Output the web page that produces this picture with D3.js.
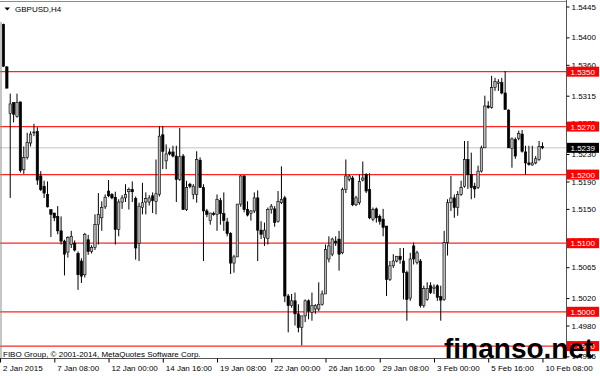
<!DOCTYPE html>
<html>
<head>
<meta charset="utf-8">
<script src="https://cdn.jsdelivr.net/npm/d3@7"></script>
<style>
body { margin: 0; background: #fff; }
svg { display: block; font-family: "Liberation Sans", Arial, sans-serif; }
</style>
</head>
<body>
<div id="chart"></div>
<script>
var width = 600,
    height = 376;

var symbol = "GBPUSD,H4";
var copyright = "FIBO Group, \u00a9 2001-2014, MetaQuotes Software Corp.";
var watermark = "finanso.net";

// H4 bars, oldest first
var open = [1.5419,1.5357,1.5289,1.5305,1.5285,1.5306,1.5207,1.5225,1.5246,1.5261,
    1.5263,1.5198,1.5183,1.5171,1.5149,1.5144,1.5139,1.5118,1.5103,1.5087,
    1.5098,1.5100,1.5085,1.5074,1.5054,1.5105,1.5088,1.5094,1.5127,1.5137,
    1.5153,1.5176,1.5171,1.5167,1.5120,1.5160,1.5166,1.5175,1.5178,1.5165,
    1.5100,1.5152,1.5160,1.5160,1.5169,1.5161,1.5171,1.5258,1.5220,1.5233,
    1.5233,1.5227,1.5193,1.5227,1.5149,1.5186,1.5171,1.5171,1.5221,1.5181,
    1.5147,1.5133,1.5143,1.5142,1.5162,1.5143,1.5131,1.5114,1.5071,1.5080,
    1.5157,1.5198,1.5149,1.5143,1.5147,1.5166,1.5119,1.5108,1.5107,1.5149,
    1.5150,1.5132,1.5159,1.5166,1.5023,1.5009,1.5016,1.4997,1.4977,1.4994,
    1.5016,1.4999,1.5004,1.5004,1.5011,1.5026,1.5077,1.5084,1.5103,1.5106,
    1.5086,1.5178,1.5193,1.5195,1.5156,1.5159,1.5192,1.5200,1.5178,1.5135,
    1.5150,1.5139,1.5135,1.5125,1.5047,1.5067,1.5074,1.5081,1.5074,1.5057,
    1.5020,1.5096,1.5072,1.5074,1.5009,1.5018,1.5038,1.5034,1.5038,1.5022,
    1.5018,1.5101,1.5159,1.5166,1.5152,1.5171,1.5183,1.5222,1.5200,1.5183,
    1.5181,1.5205,1.5239,1.5300,1.5298,1.5327,1.5333,1.5334,1.5319,1.5294,
    1.5238,1.5251,1.5253,1.5259,1.5233,1.5217,1.5214,1.5217,1.5222,1.5241];
var high = [1.5420,1.5358,1.5318,1.5305,1.5318,1.5306,1.5241,1.5261,1.5263,1.5274,
    1.5269,1.5205,1.5191,1.5190,1.5149,1.5144,1.5154,1.5139,1.5105,1.5110,
    1.5118,1.5104,1.5088,1.5078,1.5115,1.5112,1.5097,1.5142,1.5173,1.5161,
    1.5171,1.5192,1.5173,1.5175,1.5164,1.5170,1.5186,1.5181,1.5190,1.5168,
    1.5159,1.5188,1.5174,1.5170,1.5174,1.5222,1.5271,1.5271,1.5244,1.5238,
    1.5242,1.5242,1.5268,1.5230,1.5191,1.5188,1.5186,1.5234,1.5225,1.5186,
    1.5150,1.5144,1.5146,1.5171,1.5166,1.5174,1.5137,1.5116,1.5083,1.5157,
    1.5199,1.5199,1.5161,1.5148,1.5174,1.5177,1.5132,1.5130,1.5152,1.5157,
    1.5154,1.5176,1.5212,1.5169,1.5026,1.5026,1.5028,1.5011,1.4994,1.5018,
    1.5018,1.5028,1.5011,1.5043,1.5031,1.5098,1.5110,1.5108,1.5110,1.5118,
    1.5181,1.5222,1.5200,1.5198,1.5169,1.5200,1.5219,1.5202,1.5202,1.5152,
    1.5152,1.5142,1.5150,1.5125,1.5074,1.5084,1.5081,1.5093,1.5093,1.5060,
    1.5086,1.5101,1.5089,1.5077,1.5038,1.5043,1.5043,1.5040,1.5040,1.5038,
    1.5118,1.5164,1.5198,1.5171,1.5176,1.5191,1.5249,1.5249,1.5232,1.5188,
    1.5213,1.5242,1.5315,1.5307,1.5344,1.5341,1.5339,1.5341,1.5351,1.5295,
    1.5254,1.5254,1.5264,1.5265,1.5242,1.5242,1.5242,1.5227,1.5249,1.5247];
var low = [1.5357,1.5326,1.5166,1.5276,1.5283,1.5203,1.5201,1.5222,1.5241,1.5256,
    1.5185,1.5176,1.5166,1.5152,1.5109,1.5132,1.5113,1.5098,1.5053,1.5079,
    1.5093,1.5088,1.5032,1.5042,1.5050,1.5083,1.5085,1.5090,1.5098,1.5118,
    1.5150,1.5167,1.5164,1.5098,1.5110,1.5150,1.5160,1.5149,1.5160,1.5076,
    1.5074,1.5142,1.5142,1.5155,1.5144,1.5142,1.5168,1.5208,1.5208,1.5228,
    1.5225,1.5160,1.5191,1.5149,1.5147,1.5180,1.5164,1.5159,1.5181,1.5074,
    1.5138,1.5127,1.5140,1.5118,1.5127,1.5118,1.5110,1.5055,1.5057,1.5080,
    1.5153,1.5145,1.5139,1.5133,1.5144,1.5074,1.5106,1.5096,1.5098,1.5143,
    1.5124,1.5130,1.5157,1.5014,1.4970,1.5006,1.4980,1.4970,1.4951,1.4985,
    1.4989,1.4987,1.4997,1.5001,1.5009,1.5026,1.5072,1.5081,1.5096,1.5060,
    1.5084,1.5173,1.5190,1.5154,1.5154,1.5156,1.5190,1.5173,1.5135,1.5132,
    1.5130,1.5127,1.5110,1.5023,1.5045,1.5064,1.5072,1.5070,1.5018,1.4987,
    1.5016,1.5069,1.5069,1.5006,1.5006,1.5016,1.5026,1.5026,1.5016,1.4987,
    1.5016,1.5082,1.5147,1.5137,1.5140,1.5169,1.5181,1.5179,1.5164,1.5166,
    1.5179,1.5203,1.5239,1.5296,1.5296,1.5322,1.5322,1.5317,1.5295,1.5239,
    1.5210,1.5223,1.5250,1.5232,1.5200,1.5213,1.5213,1.5215,1.5220,1.5237];
var close = [1.5358,1.5326,1.5303,1.5288,1.5305,1.5206,1.5225,1.5247,1.5259,1.5262,
    1.5192,1.5178,1.5173,1.5153,1.5142,1.5137,1.5118,1.5103,1.5084,1.5108,
    1.5110,1.5090,1.5054,1.5052,1.5113,1.5088,1.5094,1.5127,1.5142,1.5152,
    1.5167,1.5169,1.5166,1.5120,1.5160,1.5166,1.5171,1.5178,1.5175,1.5093,
    1.5154,1.5159,1.5165,1.5166,1.5162,1.5172,1.5256,1.5234,1.5230,1.5230,
    1.5227,1.5193,1.5226,1.5149,1.5181,1.5183,1.5183,1.5222,1.5181,1.5147,
    1.5142,1.5144,1.5142,1.5164,1.5143,1.5133,1.5114,1.5071,1.5080,1.5157,
    1.5198,1.5149,1.5141,1.5147,1.5166,1.5119,1.5113,1.5119,1.5149,1.5154,
    1.5130,1.5161,1.5164,1.5023,1.5009,1.5016,1.4997,1.4977,1.4994,1.5016,
    1.5001,1.5009,1.5009,1.5011,1.5026,1.5091,1.5096,1.5106,1.5101,1.5084,
    1.5178,1.5198,1.5198,1.5156,1.5166,1.5190,1.5195,1.5176,1.5137,1.5149,
    1.5137,1.5132,1.5123,1.5047,1.5067,1.5074,1.5081,1.5076,1.5057,1.5018,
    1.5077,1.5077,1.5086,1.5009,1.5034,1.5034,1.5028,1.5036,1.5021,1.5017,
    1.5101,1.5159,1.5166,1.5152,1.5171,1.5181,1.5222,1.5200,1.5181,1.5179,
    1.5205,1.5239,1.5300,1.5298,1.5327,1.5336,1.5335,1.5319,1.5295,1.5239,
    1.5252,1.5227,1.5260,1.5234,1.5217,1.5215,1.5217,1.5223,1.5241,1.5239];

var levels = [1.5350, 1.5270, 1.5200, 1.5100, 1.5000, 1.4950];
var lastPrice = 1.5239;
var priceTicks = [1.5445, 1.5400, 1.5360, 1.5315, 1.5275, 1.5230, 1.5190,
    1.5150, 1.5105, 1.5065, 1.5020, 1.4980, 1.4935];
// bar index of each time label (bar -1 is the hidden 2 Jan 16:00 bar)
var timeTickBars = [-1, 15, 31, 47, 63, 79, 95, 111, 127, 143, 159];
var timeLabels = ["2 Jan 2015", "7 Jan 08:00", "12 Jan 00:00", "14 Jan 16:00",
    "19 Jan 08:00", "22 Jan 00:00", "26 Jan 16:00", "29 Jan 08:00",
    "3 Feb 00:00", "5 Feb 16:00", "10 Feb 08:00"];

var plotRight = 566.5,
    plotBottom = 358.5;

var svg = d3.select("#chart").append("svg")
    .attr("width", width)
    .attr("height", height);

var x = d3.scaleLinear()
    .domain([-1, open.length - 1])
    .range([0.06, 0.06 + 3.39 * open.length]);

var y = d3.scaleLinear()
    .domain([1.49319, 1.54545])
    .range([plotBottom, 0]);

// current price line
svg.append("line")
    .attr("x1", 0).attr("x2", plotRight)
    .attr("y1", y(lastPrice)).attr("y2", y(lastPrice))
    .attr("stroke", "#c4c4c4").attr("stroke-width", 1);

// horizontal levels
svg.selectAll(".level")
    .data(levels)
    .enter().append("line")
    .attr("class", "level")
    .attr("x1", 0).attr("x2", plotRight)
    .attr("y1", function(d){ return y(d); })
    .attr("y2", function(d){ return y(d); })
    .attr("stroke", "#ff2424").attr("stroke-width", 1.2);

// candles
var bars = d3.range(open.length);
svg.selectAll(".wick")
    .data(bars)
    .enter().append("line")
    .attr("class", "wick")
    .attr("x1", function(i){ return x(i); })
    .attr("x2", function(i){ return x(i); })
    .attr("y1", function(i){ return y(high[i]); })
    .attr("y2", function(i){ return y(low[i]); })
    .attr("stroke", "#000").attr("stroke-width", 1);

svg.selectAll(".body")
    .data(bars)
    .enter().append("rect")
    .attr("class", "body")
    .attr("x", function(i){ return x(i) - 1.2; })
    .attr("width", 2.4)
    .attr("y", function(i){ return y(Math.max(open[i], close[i])); })
    .attr("height", function(i){ return Math.max(0.8, Math.abs(y(open[i]) - y(close[i]))); })
    .attr("fill", function(i){ return close[i] >= open[i] ? "#b8b8b8" : "#000"; })
    .attr("stroke", "#000")
    .attr("stroke-width", 0.6);

// frame
svg.append("line")
    .attr("x1", 0).attr("x2", plotRight).attr("y1", 1.5).attr("y2", 1.5)
    .attr("stroke", "#8c8c8c");
svg.append("line")
    .attr("x1", 1).attr("x2", 1).attr("y1", 22).attr("y2", plotBottom)
    .attr("stroke", "#8c8c8c");
svg.append("line")
    .attr("x1", plotRight).attr("x2", plotRight).attr("y1", 0).attr("y2", plotBottom)
    .attr("stroke", "#555");
svg.append("line")
    .attr("x1", 0).attr("x2", plotRight).attr("y1", plotBottom).attr("y2", plotBottom)
    .attr("stroke", "#555");

// price axis
var yAxis = svg.append("g")
    .attr("transform", "translate(" + plotRight + ",0)")
    .call(d3.axisRight(y).tickValues(priceTicks).tickFormat(d3.format(".4f")).tickSize(3).tickPadding(2));
yAxis.select(".domain").remove();
yAxis.selectAll("text").attr("font-size", 8).attr("fill", "#000")
    .attr("font-family", "Liberation Sans, Arial, sans-serif");

// time axis
var xAxis = svg.append("g")
    .attr("transform", "translate(0," + plotBottom + ")")
    .call(d3.axisBottom(x).tickValues(timeTickBars)
        .tickFormat(function(d, i){ return timeLabels[i]; })
        .tickSize(4).tickPadding(3));
xAxis.select(".domain").remove();
xAxis.selectAll("text").attr("font-size", 8).attr("fill", "#000")
    .attr("text-anchor", "start").attr("dx", 2.5)
    .attr("font-family", "Liberation Sans, Arial, sans-serif");

// level labels
var tags = svg.selectAll(".tag")
    .data(levels.map(function(d){ return {v: d, bg: "#ff0000"}; })
        .concat([{v: lastPrice, bg: "#000"}]))
    .enter().append("g")
    .attr("class", "tag")
    .attr("transform", function(d){ return "translate(567," + y(d.v) + ")"; });
tags.append("rect")
    .attr("x", 0).attr("y", -5).attr("width", 32).attr("height", 10)
    .attr("fill", function(d){ return d.bg; });
tags.append("text")
    .attr("x", 3.5).attr("y", 3)
    .attr("font-size", 8).attr("fill", "#fff")
    .text(function(d){ return d.v.toFixed(4); });

// header
svg.append("path")
    .attr("d", "M4.5,7.5 L10,7.5 L7.25,10.5 Z")
    .attr("fill", "#000");
svg.append("text")
    .attr("x", 15).attr("y", 11.5)
    .attr("font-size", 8).attr("fill", "#000")
    .text(symbol);

// copyright
svg.append("text")
    .attr("x", 3).attr("y", 357)
    .attr("font-size", 8).attr("fill", "#000")
    .text(copyright);

// watermark
svg.append("text")
    .attr("x", 444).attr("y", 358)
    .attr("font-size", 28).attr("font-weight", "bold")
    .attr("fill", "#000")
    .text(watermark);
</script>
</body>
</html>
